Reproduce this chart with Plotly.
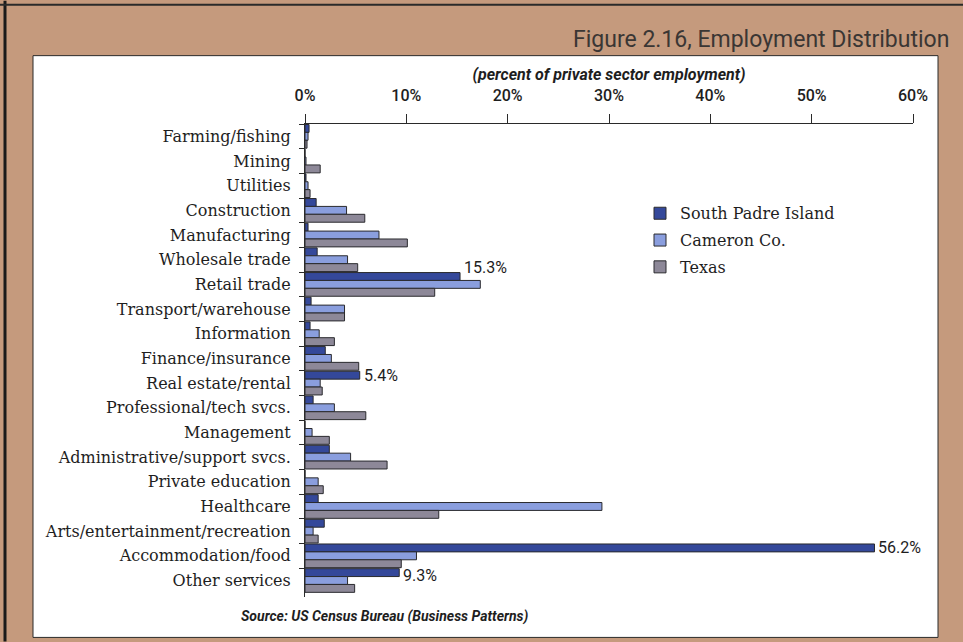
import plotly.graph_objects as go

# Employment share by industry (percent of private sector employment)
categories = [
    "Farming/fishing", "Mining", "Utilities", "Construction", "Manufacturing",
    "Wholesale trade", "Retail trade", "Transport/warehouse", "Information",
    "Finance/insurance", "Real estate/rental", "Professional/tech svcs.",
    "Management", "Administrative/support svcs.", "Private education",
    "Healthcare", "Arts/entertainment/recreation", "Accommodation/food",
    "Other services",
]
south_padre = [0.4, 0.0, 0.1, 1.1, 0.3, 1.2, 15.3, 0.6, 0.5, 2.0, 5.4, 0.8,
               0.0, 2.4, 0.0, 1.3, 1.9, 56.2, 9.3]
cameron = [0.3, 0.1, 0.3, 4.1, 7.3, 4.2, 17.3, 3.9, 1.4, 2.6, 1.5, 2.9,
           0.7, 4.5, 1.3, 29.3, 0.8, 11.0, 4.2]
texas = [0.2, 1.5, 0.5, 5.9, 10.1, 5.2, 12.8, 3.9, 2.9, 5.3, 1.7, 6.0,
         2.4, 8.1, 1.8, 13.2, 1.3, 9.5, 4.9]
labeled = ["Retail trade", "Real estate/rental", "Accommodation/food", "Other services"]
tick_vals = [0, 10, 20, 30, 40, 50, 60]
tick_text = ["0%", "10%", "20%", "30%", "40%", "50%", "60%"]

W, H = 963, 642
ML, MR, MT, MB = 305, 50, 123.5, 44.5
PW, PH = W - ML - MR, H - MT - MB


def px(x):
    return (x - ML) / PW


def py(y):
    return (H - MB - y) / PH


TAN = "#c59a7d"
TEXT = "#1e1e1e"
SERIF = "DejaVu Serif, serif"
NARROW = "Roboto, Open Sans, sans-serif"

fig = go.Figure()
series = [
    ("South Padre Island", south_padre, "#34489a"),
    ("Cameron Co.", cameron, "#8a9ede"),
    ("Texas", texas, "#8d8898"),
]
for name, vals, color in series:
    fig.add_trace(go.Bar(
        name=name, y=categories, x=vals, orientation="h",
        marker=dict(color=color, line=dict(color="#2a2a2e", width=1)),
        legendgroup=name,
    ))

# value labels beside the South Padre Island bars
shifts = {"Retail trade": 17, "Real estate/rental": 8, "Accommodation/food": 8,
          "Other services": 5}
for cat in labeled:
    v = south_padre[categories.index(cat)]
    fig.add_annotation(
        x=v, y=cat, xref="x", yref="y", text=f"{v:.1f}%", showarrow=False,
        xanchor="left", xshift=2, yshift=shifts[cat],
        font=dict(family=NARROW, size=16, color=TEXT),
    )

shapes = [
    # white panel
    dict(type="rect", xref="paper", yref="paper", layer="below",
         x0=px(33), x1=px(938), y0=py(638), y1=py(55),
         fillcolor="white", line=dict(color="#2a2a2a", width=1)),
    # dark edges of the frame
    dict(type="line", xref="paper", yref="paper", x0=px(5), x1=px(5),
         y0=py(0), y1=py(642), line=dict(color="#1a1a1a", width=3)),
    dict(type="line", xref="paper", yref="paper", x0=px(0), x1=px(963),
         y0=py(4), y1=py(4), line=dict(color="#2a2a2a", width=2)),
]

fig.add_annotation(
    x=px(951), y=py(39), xref="paper", yref="paper",
    text="Figure 2.16, Employment Distribution", showarrow=False,
    xanchor="right", yanchor="middle",
    font=dict(family="Roboto, sans-serif", size=23, color="#3a3634"),
)
fig.add_annotation(
    x=px(385), y=py(617), xref="paper", yref="paper",
    text="<b><i>Source: US Census Bureau (Business Patterns)</i></b>",
    showarrow=False, xanchor="center", yanchor="middle",
    font=dict(family=NARROW, size=14, color=TEXT),
)

fig.update_layout(
    width=W, height=H,
    margin=dict(l=ML, r=MR, t=MT, b=MB, pad=0),
    paper_bgcolor=TAN, plot_bgcolor="white",
    barmode="group", bargap=0.04, bargroupgap=0.0,
    shapes=shapes,
    showlegend=True,
    legend=dict(
        x=px(640), y=py(196), xanchor="left", yanchor="top",
        bgcolor="rgba(0,0,0,0)", traceorder="grouped", tracegroupgap=3,
        font=dict(family=SERIF, size=16, color=TEXT),
        itemwidth=30,
    ),
    xaxis=dict(
        side="top", range=[0, 60], tickvals=tick_vals, ticktext=tick_text,
        showgrid=False, zeroline=False, showline=True, linecolor="#2a2a2a",
        linewidth=1, ticks="outside", ticklen=9, tickcolor="#2a2a2a",
        ticklabelstandoff=7,
        tickfont=dict(family=NARROW, size=16, color=TEXT, weight=500),
        title=dict(text="<b><i>(percent of private sector employment)</i></b>",
                   font=dict(family=NARROW, size=16, color=TEXT), standoff=0),
    ),
    yaxis=dict(
        autorange="reversed", showgrid=False, showline=True,
        linecolor="#2a2a2a", linewidth=1, ticks="outside", ticklen=5,
        tickcolor="#2a2a2a", tickson="boundaries",
        tickfont=dict(family=SERIF, size=16, color=TEXT),
        ticklabelstandoff=10,
    ),
)

fig.write_html("out.html")
